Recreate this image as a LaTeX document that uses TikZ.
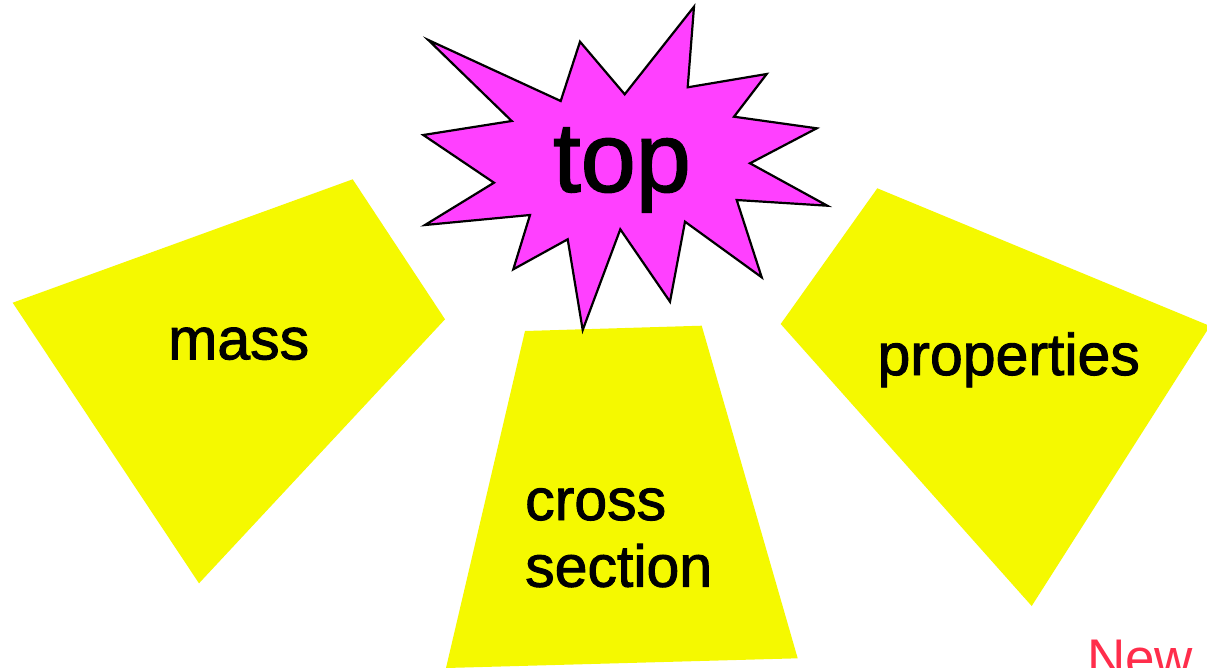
\documentclass[tikz,border=0pt]{standalone}
\usepackage{fontspec}
\setmainfont{Liberation Sans}
\newfontfamily\medfont{Liberation Sans}[UprightFeatures={FakeBold=1.6}]
\definecolor{hlyellow}{HTML}{F5F900}
\definecolor{starpink}{HTML}{FF40FF}
\definecolor{newred}{HTML}{FF2D4B}
\begin{document}
\begin{tikzpicture}[x=1pt,y=-1pt,
  patch/.style={fill=hlyellow,draw=none},
  burst/.style={fill=starpink,draw=black,line width=2.2pt,line join=miter},
  lbl/.style={inner sep=0pt,font=\medfont\fontsize{59}{59}\selectfont},
  biglbl/.style={inner sep=0pt,font=\medfont\fontsize{99}{99}\selectfont},
  newlbl/.style={inner sep=0pt,text=newred,font=\fontsize{53}{53}\selectfont}]
\useasboundingbox (0,0) rectangle (1207,667);
\fill[white] (0,0) rectangle (1207,667);
\begin{scope}
\clip (0,0) rectangle (1207,667);
% yellow patches
\path[patch] (352.7,179.3) -- (445,319.3) -- (199,583.3) -- (12.7,302.7) -- cycle;
\path[patch] (877.3,188.3) -- (1210,326) -- (1031.7,606) -- (780.7,324) -- cycle;
\path[patch] (525,331) -- (701.7,325.7) -- (797.7,658.3) -- (446,668) -- cycle;
% star burst
\path[burst] (428.3,40) -- (560.7,101) -- (580,41.7) -- (624.7,94.3) -- (694,6.7)
  -- (687.7,87.3) -- (766.7,74) -- (734,116.7) -- (816.7,128.3) -- (750,163.3)
  -- (827.3,205.7) -- (736.7,200) -- (761.7,277.3) -- (685,221.7) -- (670,301.7)
  -- (620.3,229.3) -- (582.7,330) -- (567.7,239.3) -- (513.3,269.3) -- (530,215)
  -- (425,225) -- (494,182.7) -- (423.3,135) -- (511.7,121) -- cycle;
% labels
\node[biglbl,anchor=base] (top) at (622,191.7) {top};
\node[lbl,anchor=base] (mass) at (238.7,359.3) {mass};
\node[lbl,anchor=base] (props) at (1008.7,375) {properties};
\node[lbl,anchor=base west] (cross) at (525,520) {cross};
\node[lbl,anchor=base west] (section) at (525,586.7) {section};
\node[newlbl,anchor=base west] (new) at (1087,676) {New};
\end{scope}
\end{tikzpicture}
\end{document}
